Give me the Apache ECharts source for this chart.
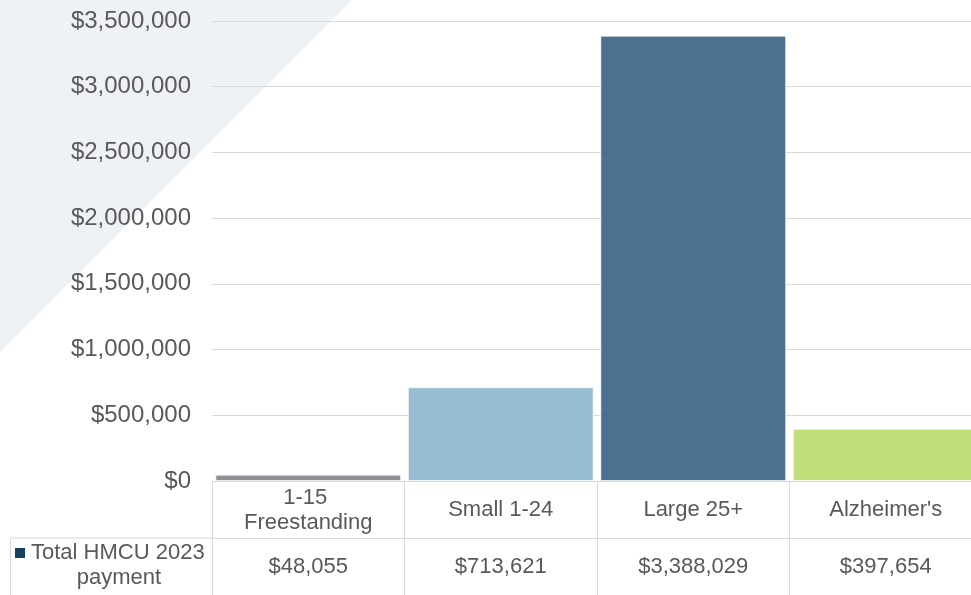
<!DOCTYPE html>
<html>
<head>
<meta charset="utf-8">
<script src="https://cdn.jsdelivr.net/npm/echarts@6/dist/echarts.min.js"></script>
<style>
    html, body { margin: 0; padding: 0; background: #fff; overflow: hidden; }
    /* the reference crops the plot's right edge, so the canvas runs past the window */
    #chart { width: 982px; height: 595px; }
</style>
</head>
<body>
<div id="chart"></div>
<script>
// data
const categories = ['1-15 Freestanding', 'Small 1-24', 'Large 25+', "Alzheimer's"];
const payments = [48055, 713621, 3388029, 397654];
const seriesName = 'Total HMCU 2023 payment';
const barColors = ['rgb(129,131,136)', 'rgb(139,182,202)', 'rgb(54,99,132)', 'rgb(184,221,107)'];
const yTicks = [0, 500000, 1000000, 1500000, 2000000, 2500000, 3000000, 3500000];

const fmtMoney = (v) => '$' + Number(v).toLocaleString('en-US');

const textColor = '#595959';
const lineColor = '#d9d9d9';
const fontFamily = 'Arial, "Liberation Sans", sans-serif';
const axisFont = 24;
const tableFont = 22;

const chart = echarts.init(document.getElementById('chart'));

const option = {
    animation: false,
    backgroundColor: '#fff',
    grid: {
        left: 212,
        top: 21,
        right: 0,
        height: 460,
    },
    xAxis: [
        {
            type: 'category',
            data: categories,
            position: 'bottom',
            axisLine: { show: true, lineStyle: { color: lineColor, width: 1 } },
            axisTick: { show: true, length: 57, lineStyle: { color: lineColor } },
            axisLabel: {
                color: textColor,
                fontSize: tableFont,
                fontFamily,
                margin: 29,
                verticalAlign: 'middle',
                lineHeight: 25,
                width: 160,
                overflow: 'break',
                interval: 0,
            },
            splitLine: { show: false },
        },
        {
            type: 'category',
            data: categories,
            position: 'bottom',
            offset: 57,
            axisLine: { show: true, lineStyle: { color: lineColor, width: 1 } },
            axisTick: { show: true, length: 70, lineStyle: { color: lineColor } },
            axisLabel: {
                color: textColor,
                fontSize: tableFont,
                fontFamily,
                margin: 29,
                verticalAlign: 'middle',
                interval: 0,
                formatter: (val, idx) => fmtMoney(payments[idx]),
            },
            splitLine: { show: false },
        },
    ],
    yAxis: {
        type: 'value',
        min: yTicks[0],
        max: yTicks[yTicks.length - 1],
        interval: yTicks[1] - yTicks[0],
        axisLine: { show: false },
        axisTick: { show: false },
        axisLabel: {
            color: textColor,
            fontSize: axisFont,
            fontFamily,
            margin: 21,
            formatter: (v) => fmtMoney(v),
        },
        splitLine: { show: true, lineStyle: { color: lineColor, width: 1 } },
    },
    series: [
        {
            name: seriesName,
            type: 'bar',
            xAxisIndex: 0,
            barCategoryGap: '3.5%',
            data: payments.map((v, i) => ({
                value: v,
                itemStyle: {
                    color: barColors[i],
                    opacity: 0.9,
                    borderColor: 'rgba(255,255,255,0.7)',
                    borderWidth: 1,
                },
            })),
        },
    ],
};

chart.setOption(option);

// background wedge + the table's left column (drawn after layout)
const y0 = chart.convertToPixel({ yAxisIndex: 0 }, 0);
const xLeft = 212;
const rowTop = y0 + 57;
chart.setOption({
    graphic: [
        {
            type: 'polygon',
            z: -10,
            silent: true,
            shape: { points: [[0, 0], [352, 0], [0, 352]] },
            style: { fill: '#eef2f6' },
        },
        {
            type: 'line',
            shape: { x1: 10, y1: rowTop, x2: xLeft, y2: rowTop },
            style: { stroke: lineColor, lineWidth: 1 },
        },
        {
            type: 'line',
            shape: { x1: 10.5, y1: rowTop, x2: 10.5, y2: 600 },
            style: { stroke: lineColor, lineWidth: 1 },
        },
        {
            type: 'rect',
            shape: { x: 15, y: rowTop + 10, width: 10, height: 10 },
            style: { fill: '#17405f' },
        },
        {
            type: 'text',
            style: {
                text: 'Total HMCU 2023',
                x: 31,
                y: rowTop + 15,
                fill: textColor,
                font: tableFont + 'px ' + fontFamily,
                verticalAlign: 'middle',
            },
        },
        {
            type: 'text',
            style: {
                text: 'payment',
                x: 119,
                y: rowTop + 40,
                fill: textColor,
                font: tableFont + 'px ' + fontFamily,
                align: 'center',
                verticalAlign: 'middle',
            },
        },
    ],
});
</script>
</body>
</html>
